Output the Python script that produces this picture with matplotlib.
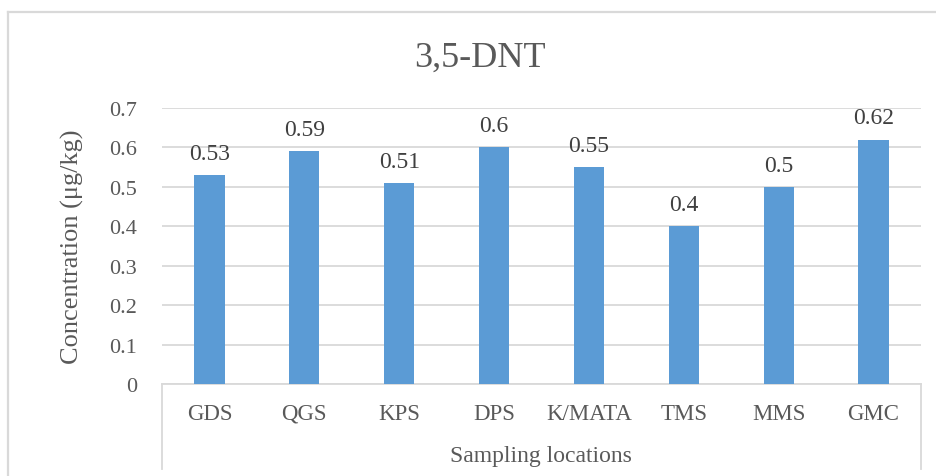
import matplotlib.pyplot as plt
from matplotlib.lines import Line2D

# data
locations = ["GDS", "QGS", "KPS", "DPS", "K/MATA", "TMS", "MMS", "GMC"]
concentration = [0.53, 0.59, 0.51, 0.6, 0.55, 0.4, 0.5, 0.62]
y_ticks = [0, 0.1, 0.2, 0.3, 0.4, 0.5, 0.6, 0.7]

plt.rcParams['font.family'] = ['Liberation Serif', 'DejaVu Serif']
txt_col = '#595959'
grid_col = '#d9d9d9'
W, H = 936, 477

fig = plt.figure(figsize=(W / 100, H / 100), dpi=100)
ax = fig.add_axes([162 / W, 1 - 385 / H, (921 - 162) / W, (385 - 109) / H])

x = range(len(locations))
ax.bar(x, concentration, width=0.32, color='#5B9BD5', zorder=3)
for xi, v in zip(x, concentration):
    ax.annotate(f"{v:g}", (xi, v), xytext=(0, 8), textcoords='offset points',
                ha='center', va='bottom', fontsize=17, color='#404040')

ax.set_xlim(-0.5, len(locations) - 0.5)
ax.set_ylim(0, 0.7)
ax.set_yticks(y_ticks)
ax.set_yticklabels([f"{t:g}" for t in y_ticks])
ax.set_xticks(list(x))
ax.set_xticklabels(locations, va='baseline')
ax.tick_params(axis='y', length=0, pad=18, labelsize=16, labelcolor=txt_col)
ax.tick_params(axis='x', length=0, pad=25, labelsize=16.5, labelcolor=txt_col)
ax.yaxis.grid(True, color=grid_col, lw=1.3, zorder=0)
for s in ['left', 'right', 'top']:
    ax.spines[s].set_visible(False)
ax.spines['bottom'].set_color(grid_col)
ax.spines['bottom'].set_linewidth(1.3)

ax.set_ylabel("Concentration (μg/kg)", fontsize=19, color=txt_col, labelpad=18)

fig.text(541 / W, 1 - 457 / H, "Sampling locations", ha='center', va='center',
         fontsize=17, color=txt_col)
fig.text(480 / W, 1 - 58 / H, "3,5-DNT", ha='center', va='center',
         fontsize=26, color=txt_col)

# multi-level category axis box lines
for xp in (162, 921):
    fig.add_artist(Line2D([xp / W, xp / W], [1 - 385 / H, 1 - 470 / H],
                          color=grid_col, lw=1.3))

# outer chart border (left and top, rest cropped)
fig.add_artist(Line2D([8 / W, 8 / W], [0, 1 - 13 / H], color=grid_col, lw=1.6))
fig.add_artist(Line2D([8 / W, 1], [1 - 13 / H, 1 - 13 / H], color=grid_col, lw=1.6))

fig.savefig('out.png', dpi=100)
